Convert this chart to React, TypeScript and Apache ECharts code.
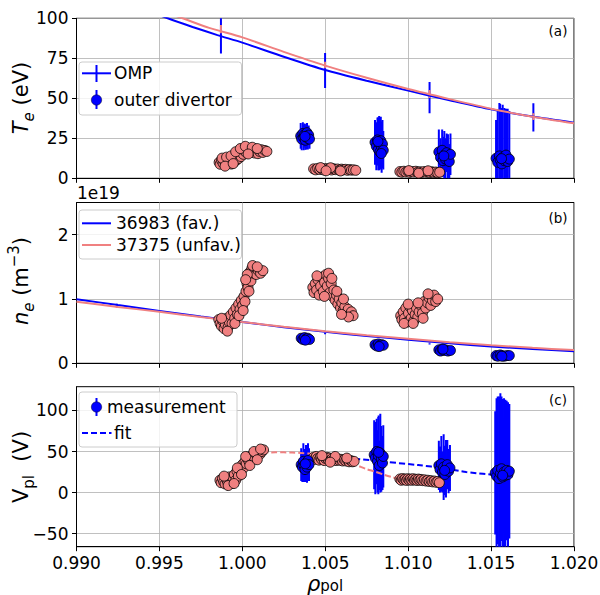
import React, { useEffect, useRef } from 'react';
import * as echarts from 'echarts';

const BLUE = '#0000ff';
const SALMON = '#f08080';
const FONT = "'DejaVu Sans', sans-serif";

// tick values
const xTicks = [0.99, 0.995, 1.0, 1.005, 1.01, 1.015, 1.02];
const teTicks = [0, 25, 50, 75, 100];
const neTicks = [0, 1, 2];
const vplTicks = [-50, 0, 50, 100];

// ---------- panel (a): Te (eV) ----------
const teFavFit = [[0.994, 106], [0.9955, 100], [0.997, 94.6], [0.9985, 89.5], [1.0, 84.8], [1.0025, 76.0], [1.005, 67.7], [1.0075, 61.0], [1.01, 54.8], [1.0125, 48.8], [1.015, 43.1], [1.0175, 38.6], [1.02, 34.8]];
const teUnfavFit = [[0.995, 105], [0.9964, 100], [0.998, 94.0], [1.0, 88.1], [1.0025, 79.0], [1.005, 70.4], [1.0075, 62.8], [1.01, 55.8], [1.0125, 49.5], [1.015, 43.5], [1.0175, 38.5], [1.02, 34.4]];
// OMP error bars: x, low, high
const ompTeFav = [[0.99871, 78, 101], [1.00499, 56.5, 78.3], [1.01129, 40.6, 60.2], [1.01755, 29.2, 46.9]];
const ompTeUnfav = [[0.99871, 90.6, 95.8], [1.00499, 68.8, 72.9], [1.01129, 50.2, 55.2], [1.01755, 36.5, 40.6]];
// outer divertor, unfavourable (x, Te)
const divTeUnfav = [
  [0.9986, 10.0], [0.99866, 8.8], [0.99875, 11.2], [0.99884, 9.4], [0.99893, 10.6], [0.99902, 8.6], [0.9991, 12.0], [0.99918, 9.8], [0.99926, 11.0], [0.99934, 8.9], [0.99942, 12.8], [0.9995, 10.2], [0.99958, 13.6], [0.99965, 11.4], [0.99972, 14.8], [0.99978, 12.4], [0.99985, 16.0], [0.99992, 13.6], [1.0, 17.2], [1.00006, 15.0], [1.00014, 18.4], [1.00022, 16.2], [1.0003, 19.0], [1.00038, 17.2], [1.00046, 18.2], [1.00055, 16.4], [1.00064, 17.6], [1.00074, 15.8], [1.00084, 17.0], [1.00094, 15.4], [1.00104, 16.8], [1.00114, 17.9], [1.00124, 16.2], [1.00136, 17.4], [1.00148, 16.8],
  [0.99878, 12.6], [0.99905, 13.2], [0.99932, 14.0], [0.9996, 16.6], [0.99988, 18.6], [1.00018, 20.0], [1.0006, 19.4], [0.99896, 7.6], [0.99945, 9.2], [1.00035, 15.2], [1.0009, 18.6],
  [1.0043, 5.9], [1.00442, 5.3], [1.00454, 6.2], [1.00466, 5.5], [1.00478, 6.0], [1.0049, 5.2], [1.00502, 6.1], [1.00514, 5.5], [1.00526, 5.9], [1.00538, 5.2], [1.0055, 6.0], [1.00562, 5.4], [1.00574, 5.8], [1.00586, 5.1], [1.00598, 5.7], [1.0061, 5.3], [1.00622, 5.6], [1.00634, 5.0], [1.00646, 5.5], [1.00658, 5.1], [1.0067, 5.3], [1.00684, 5.0],
  [1.00472, 6.7], [1.00532, 6.6], [1.00592, 4.6], [1.00505, 4.7],
  [1.0095, 4.2], [1.00962, 3.8], [1.00974, 4.4], [1.00986, 3.9], [1.00998, 4.3], [1.0101, 3.7], [1.01022, 4.2], [1.01034, 3.9], [1.01046, 4.4], [1.01058, 3.8], [1.0107, 4.1], [1.01082, 3.7], [1.01094, 4.2], [1.01106, 3.8], [1.01118, 4.0], [1.0113, 3.6], [1.01142, 4.1], [1.01154, 3.7], [1.01166, 3.9], [1.01178, 3.5], [1.0119, 3.8],
  [1.01004, 4.8], [1.01064, 3.2], [1.0112, 4.7],
];
// outer divertor, favourable (x, Te, err)
const divTeFav = [
  [1.00352, 26.5, 8], [1.00358, 24.5, 7], [1.00365, 28.0, 7], [1.0037, 25.5, 8], [1.00375, 27.2, 7], [1.0038, 23.8, 6], [1.00385, 26.0, 8], [1.0039, 28.5, 6], [1.00395, 25.0, 7], [1.004, 27.0, 6], [1.00405, 24.5, 6], [1.00378, 26.2, 7],
  [1.008, 22.5, 14], [1.00808, 20.0, 15], [1.00815, 24.0, 14], [1.0082, 18.0, 13], [1.00825, 22.0, 17], [1.0083, 16.5, 11], [1.00835, 23.5, 15], [1.0084, 19.5, 16], [1.00845, 21.5, 15], [1.0085, 17.5, 12], [1.00838, 15.5, 9], [1.00818, 23.0, 15],
  [1.01185, 16.5, 14], [1.01195, 13.0, 12], [1.01205, 17.5, 13], [1.0121, 11.0, 10], [1.01218, 14.5, 15], [1.01225, 12.0, 13], [1.01232, 16.0, 12], [1.0124, 13.5, 14], [1.01248, 10.5, 11], [1.01255, 15.0, 13], [1.01215, 14.0, 12],
  [1.0153, 12.5, 24], [1.0154, 10.0, 33], [1.0155, 14.0, 33], [1.01555, 11.5, 35], [1.01565, 9.0, 35], [1.0157, 13.0, 33], [1.0158, 11.0, 33], [1.0159, 14.5, 29], [1.016, 10.5, 33], [1.0161, 12.0, 30], [1.01563, 12.3, 20],
];

// ---------- panel (b): ne (1e19 m^-3) ----------
const neFavFit = [[0.99, 0.997], [0.9925, 0.905], [0.995, 0.815], [0.9975, 0.727], [1.0, 0.642], [1.0025, 0.562], [1.005, 0.49], [1.0075, 0.425], [1.01, 0.368], [1.0125, 0.312], [1.015, 0.262], [1.0175, 0.222], [1.02, 0.187]];
const neUnfavFit = [[0.99, 0.958], [0.9925, 0.877], [0.995, 0.8], [0.9975, 0.72], [1.0, 0.642], [1.0025, 0.568], [1.005, 0.5], [1.0075, 0.437], [1.01, 0.38], [1.0125, 0.327], [1.015, 0.28], [1.0175, 0.24], [1.02, 0.205]];
const ompNeFav = [[0.99243, 0.885, 0.925], [1.00499, 0.45, 0.47], [1.01129, 0.292, 0.312], [1.01755, 0.205, 0.222]];
const ompNeUnfav = [[0.99243, 0.86, 0.9], [1.00499, 0.475, 0.5], [1.01129, 0.318, 0.338], [1.01755, 0.222, 0.24]];
const divNeUnfav = [
  [0.99858, 0.68], [0.99866, 0.62], [0.99874, 0.58], [0.99882, 0.66], [0.9989, 0.54], [0.99898, 0.6], [0.99906, 0.7], [0.99914, 0.56], [0.99922, 0.64], [0.9993, 0.75], [0.99938, 0.62], [0.99946, 0.8], [0.99954, 0.7], [0.99962, 0.86], [0.9997, 0.76], [0.99978, 0.92], [0.99986, 0.84], [0.99994, 0.98], [1.00002, 0.9], [1.0001, 1.04], [1.00016, 0.96], [1.00022, 1.12], [1.00028, 1.24], [1.00034, 1.18], [1.0004, 1.32], [1.00046, 1.42], [1.00052, 1.28], [1.00058, 1.48], [1.00066, 1.4], [1.00074, 1.46], [1.00084, 1.38], [1.00096, 1.44], [1.0011, 1.4], [1.00124, 1.44], [1.0003, 1.38],
  [0.99875, 0.7], [0.9991, 0.5], [0.99955, 0.62], [0.9998, 0.74], [1.00005, 0.82], [1.0002, 1.3], [1.0004, 1.12], [1.00062, 1.52], [1.0009, 1.5],
  [1.00425, 1.18], [1.00432, 1.1], [1.0044, 1.24], [1.00448, 1.14], [1.00456, 1.3], [1.00464, 1.06], [1.00472, 1.2], [1.0048, 1.34], [1.00488, 1.12], [1.00496, 1.26], [1.00504, 1.38], [1.00512, 1.2], [1.0052, 1.32], [1.00528, 1.1], [1.00536, 1.24], [1.00544, 1.04], [1.00552, 1.14], [1.0056, 0.98], [1.00568, 1.06], [1.00576, 0.92], [1.00584, 1.0], [1.00592, 0.86], [1.006, 0.94], [1.00608, 0.82], [1.00618, 0.88], [1.00628, 0.78], [1.00638, 0.84], [1.00648, 0.76], [1.00658, 0.8], [1.00668, 0.74], [1.0052, 1.4],
  [1.0045, 1.36], [1.00495, 1.04], [1.0054, 1.32], [1.0057, 1.12], [1.0061, 1.0], [1.0064, 0.72], [1.00598, 0.76],
  [1.00955, 0.74], [1.00962, 0.68], [1.0097, 0.8], [1.00978, 0.7], [1.00986, 0.86], [1.00994, 0.64], [1.01002, 0.78], [1.0101, 0.88], [1.01018, 0.7], [1.01026, 0.82], [1.01034, 0.66], [1.01042, 0.76], [1.0105, 0.86], [1.01058, 0.72], [1.01066, 0.8], [1.01076, 0.9], [1.01086, 0.78], [1.01096, 0.96], [1.01106, 0.86], [1.01116, 0.94], [1.01126, 1.02], [1.01136, 0.9], [1.01146, 0.98], [1.01156, 1.06], [1.01166, 0.96], [1.01178, 1.0],
  [1.00975, 0.62], [1.01, 0.92], [1.0103, 0.62], [1.0106, 0.94], [1.0109, 0.7], [1.0112, 1.08],
];
const divNeFav = [
  [1.00355, 0.39], [1.00365, 0.37], [1.00375, 0.4], [1.00385, 0.38], [1.00395, 0.39], [1.00405, 0.37], [1.0038, 0.36],
  [1.008, 0.29], [1.0081, 0.27], [1.0082, 0.3], [1.0083, 0.28], [1.0084, 0.29], [1.0085, 0.28], [1.00825, 0.26],
  [1.01185, 0.21], [1.01195, 0.19], [1.01205, 0.22], [1.01215, 0.2], [1.01225, 0.21], [1.0124, 0.19], [1.01255, 0.2], [1.0121, 0.22],
  [1.0153, 0.12], [1.0154, 0.11], [1.01555, 0.13], [1.01565, 0.12], [1.0158, 0.11], [1.01595, 0.12], [1.0161, 0.12], [1.01565, 0.11],
];

// ---------- panel (c): Vpl (V) ----------
const vplUnfavFit = [[1.0012, 48.5], [1.002, 49], [1.003, 48.8], [1.004, 47.5], [1.005, 45], [1.0055, 42.5], [1.006, 39.5], [1.0065, 36.5], [1.007, 32.5], [1.0075, 28.5], [1.008, 25.5], [1.0085, 22], [1.009, 19], [1.0095, 16.5], [1.01, 15.5], [1.011, 15], [1.0118, 14.5]];
const vplFavFit = [[1.0035, 45], [1.005, 43.5], [1.0067, 41.4], [1.0087, 37.3], [1.0106, 33.5], [1.0122, 29.5], [1.0135, 25], [1.0157, 20.5]];
const divVplUnfav = [
  [0.99865, 15], [0.99872, 12], [0.9988, 17], [0.99888, 13], [0.99896, 10.5], [0.99904, 16], [0.99912, 12.5], [0.9992, 19], [0.99928, 14], [0.99936, 11], [0.99944, 17.5], [0.99952, 22], [0.9996, 15], [0.99968, 26], [0.99976, 20], [0.99984, 30], [0.99992, 26], [1.0, 34], [1.00008, 30], [1.00016, 38], [1.00024, 35], [1.00032, 41], [1.0004, 38], [1.00048, 44], [1.00056, 41], [1.00064, 46], [1.00072, 43], [1.0008, 48], [1.00088, 45], [1.00098, 49], [1.00108, 47], [1.00118, 50], [1.00128, 52],
  [0.9989, 20], [0.99915, 8.5], [0.9995, 11], [0.9997, 30], [0.99995, 22], [1.0002, 44], [1.00045, 33], [1.0007, 50], [1.0009, 40], [1.0011, 53],
  [1.0043, 43], [1.00438, 40.5], [1.00446, 44], [1.00454, 41.5], [1.00462, 39.5], [1.0047, 43], [1.00478, 40.5], [1.00486, 42.5], [1.00494, 39], [1.00502, 41.5], [1.0051, 43], [1.00518, 40], [1.00526, 42], [1.00534, 39.5], [1.00542, 41.5], [1.0055, 40], [1.00558, 42], [1.00566, 39], [1.00574, 41], [1.00584, 39.5], [1.00594, 40.5], [1.00604, 38.5], [1.00614, 40], [1.00624, 38.5], [1.00634, 39.5], [1.00644, 37.5], [1.00654, 39], [1.00664, 37.5], [1.00674, 38],
  [1.0048, 45], [1.0056, 44], [1.0063, 42], [1.0053, 37],
  [1.0095, 16.5], [1.00958, 15], [1.00966, 17], [1.00974, 15.5], [1.00982, 16.5], [1.0099, 14.8], [1.00998, 16.8], [1.01006, 15.2], [1.01014, 16.5], [1.01022, 15], [1.0103, 16.8], [1.01038, 15.2], [1.01046, 16.2], [1.01054, 14.8], [1.01062, 16.4], [1.0107, 15], [1.01078, 16], [1.01088, 14.5], [1.01098, 15.5], [1.01108, 14], [1.01118, 15], [1.01128, 13.5], [1.01138, 14.5], [1.01148, 13], [1.01158, 14], [1.01168, 12.5], [1.01178, 13.5], [1.01188, 12],
];
const divVplFav = [
  [1.00355, 34, 20], [1.00362, 31, 18], [1.00368, 38, 22], [1.00372, 33, 20], [1.00378, 28, 15], [1.00384, 36, 22], [1.0039, 31, 19], [1.00396, 39, 21], [1.00402, 34, 20], [1.0038, 35, 18],
  [1.00795, 46, 42], [1.00802, 42, 44], [1.0081, 50, 40], [1.00815, 38, 38], [1.0082, 45, 47], [1.00826, 33, 30], [1.00832, 48, 48], [1.00838, 41, 40], [1.00845, 36, 33], [1.0085, 44, 38], [1.00822, 49, 45],
  [1.01185, 33, 30], [1.01192, 28, 28], [1.012, 35, 34], [1.01207, 25, 25], [1.01214, 31, 40], [1.01221, 22, 22], [1.01228, 29, 35], [1.01236, 34, 30], [1.01244, 26, 27], [1.01252, 30, 28], [1.0122, 27, 30],
  [1.01525, 24, 75], [1.01533, 20, 95], [1.0154, 27, 90], [1.01548, 17, 100], [1.01556, 23, 98], [1.01563, 29, 88], [1.0157, 19, 95], [1.01578, 25, 90], [1.01586, 21, 92], [1.01594, 27, 85], [1.01602, 22, 88], [1.0161, 26, 82], [1.0157, 21, 70],
];

function errSeries(idx: number, data: number[][], color: string, width: number, z: number) {
  return {
    type: 'custom', xAxisIndex: idx, yAxisIndex: idx, clip: true, silent: true, z,
    data,
    encode: { x: 0, y: [1, 2] },
    renderItem: (_p: any, api: any) => {
      const a = api.coord([api.value(0), api.value(1)]);
      const b = api.coord([api.value(0), api.value(2)]);
      return { type: 'line', shape: { x1: a[0], y1: a[1], x2: b[0], y2: b[1] }, style: { stroke: color, lineWidth: width } };
    },
  };
}
function lineSeries(idx: number, data: number[][], color: string, dashed: boolean, z = 3) {
  return {
    type: 'line', xAxisIndex: idx, yAxisIndex: idx, data, showSymbol: false, symbol: 'none', smooth: 0.25, clip: true, z, silent: true,
    lineStyle: { color, width: 2, type: dashed ? [6, 3] : 'solid' },
  };
}
function scatterSeries(idx: number, data: number[][], color: string, z = 4) {
  return {
    type: 'scatter', xAxisIndex: idx, yAxisIndex: idx, data: data.map(d => [d[0], d[1]]), symbol: 'circle', symbolSize: 10, z, silent: true,
    itemStyle: { color, borderColor: '#000', borderWidth: 0.8, opacity: 1 },
  };
}
const withErr = (d: number[][]) => d.map(p => [p[0], p[1] - p[2], p[1] + p[2]]);

const gridTops = [18.3, 202.5, 386.7];
const gridHeights = [160, 160.8, 160];

const minus = (v: number) => String(v).replace('-', '\u2212');

function buildOption() {
  const grid = gridTops.map((t, i) => ({
    left: 76.5, top: t, width: 497.5, height: gridHeights[i], show: true, borderColor: '#000', borderWidth: 1,
    backgroundColor: 'transparent', containLabel: false, outerBoundsMode: 'none',
  }));
  const xAxis = [0, 1, 2].map(i => ({
    type: 'value', gridIndex: i, min: 0.99, max: 1.02,
    axisLine: { show: true, onZero: false, lineStyle: { color: '#000', width: 1 } },
    axisTick: { show: true, inside: false, length: 4.5, customValues: xTicks, lineStyle: { color: '#000', width: 1 } },
    axisLabel: { show: i === 2, customValues: xTicks, margin: 8, fontSize: 17, fontFamily: FONT, color: '#000', formatter: (v: number) => v.toFixed(3) },
    splitLine: { show: true, lineStyle: { color: '#b0b0b0', width: 0.8 } },
  }));
  const yDefs = [
    { min: 0, max: 100, ticks: teTicks },
    { min: 0, max: 2.5, ticks: neTicks },
    { min: -66, max: 129, ticks: vplTicks },
  ];
  const yAxis = yDefs.map((d, i) => ({
    type: 'value', gridIndex: i, min: d.min, max: d.max,
    axisLine: { show: true, onZero: false, lineStyle: { color: '#000', width: 1 } },
    axisTick: { show: true, inside: false, length: 4.5, customValues: d.ticks, lineStyle: { color: '#000', width: 1 } },
    axisLabel: { show: true, customValues: d.ticks, margin: 8, fontSize: 17, fontFamily: FONT, color: '#000', formatter: minus },
    splitLine: { show: true, lineStyle: { color: '#b0b0b0', width: 0.8 } },
  }));

  const series: any[] = [
    // (a)
    errSeries(0, ompTeFav, BLUE, 2, 2),
    errSeries(0, ompTeUnfav, SALMON, 2, 2.1),
    errSeries(0, withErr(divTeFav), BLUE, 2, 2),
    lineSeries(0, teFavFit, BLUE, false),
    lineSeries(0, teUnfavFit, SALMON, false),
    scatterSeries(0, divTeUnfav, SALMON),
    scatterSeries(0, divTeFav, BLUE, 5),
    // (b)
    errSeries(1, ompNeFav, BLUE, 2, 2),
    errSeries(1, ompNeUnfav, SALMON, 2, 2.1),
    lineSeries(1, neFavFit, BLUE, false),
    lineSeries(1, neUnfavFit, SALMON, false),
    scatterSeries(1, divNeUnfav, SALMON),
    scatterSeries(1, divNeFav, BLUE, 5),
    // (c)
    errSeries(2, withErr(divVplFav), BLUE, 2, 2),
    lineSeries(2, vplUnfavFit, SALMON, true),
    lineSeries(2, vplFavFit, BLUE, true),
    scatterSeries(2, divVplUnfav, SALMON),
    scatterSeries(2, divVplFav, BLUE, 5),
  ];

  const txt = (text: string, x: number, y: number, size: number, align = 'left') => ({
    type: 'text', x, y, z: 120, silent: true,
    style: { text, fontFamily: FONT, fontSize: size, fill: '#000', align, verticalAlign: 'middle' },
  });
  const box = (x: number, y: number, w: number, h: number) => ({
    type: 'rect', z: 110, silent: true, shape: { x, y, width: w, height: h, r: 3 },
    style: { fill: 'rgba(255,255,255,0.8)', stroke: '#cccccc', lineWidth: 1 },
  });
  const seg = (x1: number, y1: number, x2: number, y2: number, color: string, dash?: number[]) => ({
    type: 'line', z: 115, silent: true, shape: { x1, y1, x2, y2 },
    style: { stroke: color, lineWidth: 2, lineDash: dash },
  });
  const dot = (cx: number, cy: number) => ({
    type: 'circle', z: 116, silent: true, shape: { cx, cy, r: 5.2 }, style: { fill: BLUE, stroke: '#000022', lineWidth: 0.5 },
  });
  const rich = {
    it: { fontFamily: FONT, fontSize: 21, fontStyle: 'italic', lineHeight: 30, verticalAlign: 'middle' },
    n: { fontFamily: FONT, fontSize: 21, lineHeight: 30, verticalAlign: 'middle' },
    sub: { fontFamily: FONT, fontSize: 15, verticalAlign: 'bottom', lineHeight: 18 },
    subit: { fontFamily: FONT, fontSize: 15, fontStyle: 'italic', verticalAlign: 'bottom', lineHeight: 18 },
    sup: { fontFamily: FONT, fontSize: 15, verticalAlign: 'top', lineHeight: 16 },
  };
  const richX = {
    it: { fontFamily: FONT, fontSize: 21, fontStyle: 'italic', lineHeight: 18, verticalAlign: 'middle' },
    sub: { fontFamily: FONT, fontSize: 15, verticalAlign: 'bottom', lineHeight: 11 },
  };
  const rtext = (text: string, x: number, y: number, rot: number, r: any = rich) => ({
    type: 'text', x, y, rotation: rot, z: 120, silent: true,
    style: { text, rich: r, fill: '#000', align: 'center', verticalAlign: 'middle' },
  });

  const graphic = [
    // legend (a)
    box(79, 62, 162.5, 53),
    seg(82, 73.3, 111, 73.3, BLUE), seg(96.5, 65, 96.5, 82, BLUE),
    txt('OMP', 114, 73.3, 17),
    seg(96.5, 90, 96.5, 109, BLUE), dot(96.5, 100),
    txt('outer divertor', 114, 100, 17),
    // legend (b)
    box(79, 210, 162.5, 49),
    seg(82, 223.3, 111, 223.3, BLUE), txt('36983 (fav.)', 116, 223.3, 17),
    seg(82, 245, 111, 245, SALMON), txt('37375 (unfav.)', 116, 245, 17),
    // legend (c)
    box(79, 392, 158, 55),
    seg(96.5, 398, 96.5, 416, BLUE), dot(96.5, 407),
    txt('measurement', 107, 407, 17),
    seg(82, 433, 111.5, 433, BLUE, [6, 3]), txt('fit', 114, 433, 17),
    // panel labels
    txt('(a)', 558, 31, 13.5, 'center'),
    txt('(b)', 558, 218, 13.5, 'center'),
    txt('(c)', 558, 400, 13.5, 'center'),
    txt('1e19', 77, 193, 17),
    // axis names
    rtext('{it|T}{subit|e}{n| (eV)}', 21, 98, Math.PI / 2),
    rtext('{it|n}{subit|e}{n| (m}{sup|\u22123}{n|)}', 21, 281, Math.PI / 2),
    rtext('{n|V}{sub|pl}{n|  (V)}', 21, 467, Math.PI / 2),
    rtext('{it|\u03c1}{sub|pol}', 325, 584, 0, richX),
  ];

  return { animation: false, backgroundColor: '#ffffff', grid, xAxis, yAxis, series, graphic };
}

export default function App() {
  const ref = useRef<HTMLDivElement>(null);
  useEffect(() => {
    document.body.style.margin = '0';
    const chart = echarts.init(ref.current!, null, { renderer: 'svg' });
    chart.setOption(buildOption() as any);
    return () => chart.dispose();
  }, []);
  return <div ref={ref} style={{ position: 'absolute', left: 0, top: 0, width: 600, height: 595 }} />;
}
